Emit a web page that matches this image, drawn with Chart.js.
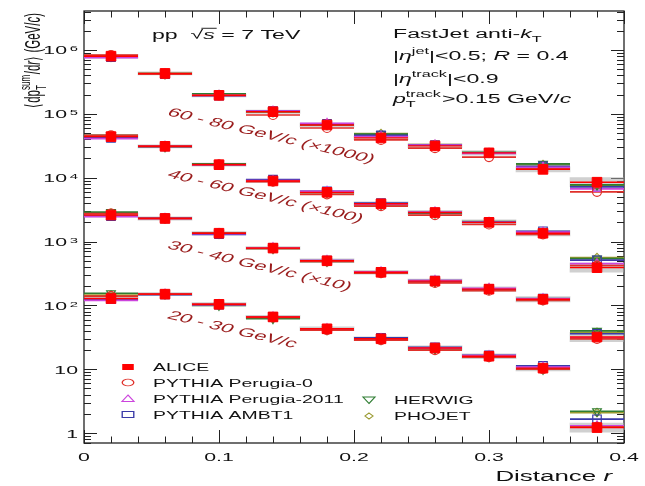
<!DOCTYPE html>
<html>
<head>
<meta charset="utf-8">
<script src="https://cdn.jsdelivr.net/npm/chart.js@4.4.1/dist/chart.umd.min.js"></script>
<style>
  html, body { margin: 0; padding: 0; background: #fff; }
  #wrap { width: 645px; height: 486px; }
</style>
</head>
<body>
<div id="wrap"><canvas id="chart" width="645" height="486"></canvas></div>
<script>
// bins in r and the four jet pT classes (rows), already scaled as drawn
const rCenters = [0.02, 0.06, 0.10, 0.14, 0.18, 0.22, 0.26, 0.30, 0.34, 0.38];
const rHalfWidth = 0.02;
const ptLabels = ['20 - 30 GeV/c', '30 - 40 GeV/c (\u00d710)', '40 - 60 GeV/c (\u00d7100)', '60 - 80 GeV/c (\u00d71000)'];

const alice = [
  [128, 150, 104, 66, 43, 30, 21.5, 16, 10.4, 1.22],
  [2600, 2300, 1350, 790, 500, 330, 240, 180, 125, 32],
  [44000, 31000, 16000, 8900, 5900, 3900, 2850, 2000, 1350, 390],
  [800000, 430000, 195000, 108000, 67000, 42000, 31500, 24500, 13500, 8500]
];
// relative systematic uncertainty per r bin (grey boxes)
const aliceSys = [0.07, 0.06, 0.06, 0.06, 0.07, 0.07, 0.08, 0.09, 0.10, 0.18];

const perugia0 = [
  [140, 150, 104, 65, 41, 28.5, 20, 15.5, 10, 1.25],
  [2750, 2300, 1350, 780, 490, 320, 225, 170, 120, 30],
  [46000, 31000, 16000, 8700, 5500, 3600, 2600, 1850, 1300, 420],
  [830000, 420000, 195000, 96000, 60000, 39000, 29000, 21000, 13800, 6000]
];
const perugia2011 = [
  [120, 150, 103, 66, 43, 30, 21.5, 16.3, 10.8, 1.3],
  [2450, 2300, 1330, 800, 505, 335, 245, 185, 127, 31],
  [41000, 31000, 15800, 9000, 6100, 3850, 2900, 2000, 1400, 450],
  [760000, 420000, 195000, 110000, 71000, 44000, 32500, 24000, 14500, 6700]
];
const ambt1 = [
  [125, 148, 103, 66, 43, 31, 22, 16.5, 11.3, 1.65],
  [2500, 2300, 1300, 800, 505, 335, 245, 182, 128, 36],
  [42000, 31000, 15800, 9300, 6100, 4000, 2850, 2020, 1450, 510],
  [770000, 420000, 192000, 110000, 70000, 46000, 32500, 24500, 15000, 7200]
];
const herwig = [
  [155, 152, 100, 62, 42, 29.5, 21, 15.8, 10, 2.2],
  [2900, 2350, 1350, 780, 490, 330, 235, 178, 123, 40],
  [46000, 30500, 16500, 9000, 5900, 3800, 2800, 2050, 1380, 540],
  [800000, 425000, 205000, 108000, 68000, 48000, 32500, 25000, 16500, 7700]
];
const phojet = [
  [145, 150, 102, 64, 42, 29.5, 21, 15.5, 10.2, 2.1],
  [2800, 2320, 1360, 785, 495, 330, 238, 178, 124, 38],
  [45000, 31000, 16200, 8900, 5900, 3850, 2800, 2000, 1360, 560],
  [810000, 425000, 200000, 108000, 68000, 49000, 33000, 24500, 16000, 7500]
];

const xMajorTicks = [0, 0.1, 0.2, 0.3, 0.4];
const xTickLabels = ['0', '0.1', '0.2', '0.3', '0.4'];
const xMinorStep = 0.02;
const yExponents = [0, 1, 2, 3, 4, 5, 6];

const SX = 1.85;  // the reference is stretched sideways, text too
const FONT = '"Liberation Sans", Arial, Helvetica, sans-serif';

const mcSeries = [
  { name: 'PYTHIA Perugia-0', rows: perugia0, color: '#e0302a', style: 'circle', radius: 4.5, rot: 0 },
  { name: 'PYTHIA Perugia-2011', rows: perugia2011, color: '#cc44dd', style: 'triangle', radius: 5, rot: 0 },
  { name: 'PYTHIA AMBT1', rows: ambt1, color: '#3a3aa8', style: 'rect', radius: 6, rot: 0 },
  { name: 'HERWIG', rows: herwig, color: '#2f7d32', style: 'triangle', radius: 5, rot: 180 },
  { name: 'PHOJET', rows: phojet, color: '#9a9a30', style: 'rectRot', radius: 4.2, rot: 0 }
];

function binLines(rows) {
  const out = [];
  rows.forEach(row => row.forEach((v, i) => {
    out.push({ x: rCenters[i] - rHalfWidth, y: v });
    out.push({ x: rCenters[i] + rHalfWidth, y: v });
    out.push({ x: rCenters[i] + rHalfWidth, y: null });
  }));
  return out;
}
function binPoints(rows) {
  const out = [];
  rows.forEach(row => row.forEach((v, i) => out.push({ x: rCenters[i], y: v })));
  return out;
}
function sysBoxes(rows) {
  const out = [];
  rows.forEach(row => row.forEach((v, i) => {
    out.push({ x: rCenters[i], y: [v / (1 + aliceSys[i]), v * (1 + aliceSys[i])] });
  }));
  return out;
}

const datasets = [];
datasets.push({
  type: 'scatter', label: 'ALICE', data: binPoints(alice), order: 1,
  pointStyle: 'rect', pointRadius: 6.8, backgroundColor: '#ff0000', borderColor: '#ff0000', borderWidth: 1
});
datasets.push({
  type: 'line', label: 'ALICE bins', data: binLines(alice), order: 2,
  borderColor: '#ff0000', borderWidth: 1.4, pointRadius: 0, spanGaps: false, fill: false
});
mcSeries.forEach((s, k) => {
  datasets.push({
    type: 'scatter', label: s.name, data: binPoints(s.rows), order: 4 + k,
    pointStyle: s.style, pointRadius: s.radius, rotation: s.rot,
    backgroundColor: 'rgba(0,0,0,0)', borderColor: s.color, borderWidth: 1.2
  });
  datasets.push({
    type: 'line', label: s.name + ' bins', data: binLines(s.rows), order: 20 + k,
    borderColor: s.color, borderWidth: 1.7, pointRadius: 0, spanGaps: false, fill: false
  });
});
datasets.push({
  type: 'bar', label: 'ALICE sys', data: sysBoxes(alice), order: 40,
  backgroundColor: 'rgba(170,170,170,0.55)', borderWidth: 0,
  barPercentage: 1, categoryPercentage: 1, grouped: false
});

// ---- text helpers (rich runs with sub/superscripts) ----
function setFont(ctx, size, it) { ctx.font = (it ? 'italic ' : '') + size + 'px ' + FONT; }
function drawRuns(ctx, runs, size, draw) {
  let x = 0;
  runs.forEach(r => {
    if (r.stack) {
      const s = size * 0.7;
      setFont(ctx, s, false);
      const w1 = ctx.measureText(r.stack.sup).width, w2 = ctx.measureText(r.stack.sub).width;
      if (draw) {
        ctx.fillText(r.stack.sup, x, -size * 0.45);
        ctx.fillText(r.stack.sub, x, size * 0.3);
      }
      x += Math.max(w1, w2) + size * 0.05;
      return;
    }
    const s = (r.sup || r.sub) ? size * 0.7 : size;
    const dy = r.sup ? -size * 0.45 : (r.sub ? size * 0.3 : 0);
    setFont(ctx, s, r.it);
    const w = ctx.measureText(r.t).width;
    if (draw) {
      ctx.fillText(r.t, x, dy);
      if (r.over) {
        ctx.save();
        ctx.lineWidth = 0.9;
        ctx.beginPath();
        ctx.moveTo(x - 1, -size * 0.86);
        ctx.lineTo(x + w + 1, -size * 0.86);
        ctx.stroke();
        ctx.restore();
      }
    }
    x += w;
  });
  return x;
}
function richText(ctx, runs, x, y, size, color, align, angle) {
  ctx.save();
  ctx.fillStyle = color;
  ctx.strokeStyle = color;
  ctx.textBaseline = 'alphabetic';
  ctx.textAlign = 'left';
  ctx.translate(x, y);
  ctx.scale(SX, 1);
  if (angle) ctx.rotate(angle);
  const w = drawRuns(ctx, runs, size, false);
  if (align === 'right') ctx.translate(-w, 0);
  else if (align === 'center') ctx.translate(-w / 2, 0);
  drawRuns(ctx, runs, size, true);
  ctx.restore();
}

function legendMarker(ctx, style, x, y, color, filled) {
  ctx.save();
  ctx.translate(x, y);
  ctx.scale(1.7, 1);
  ctx.strokeStyle = color;
  ctx.fillStyle = color;
  ctx.lineWidth = 0.8;
  ctx.beginPath();
  if (style === 'rect') ctx.rect(-3.4, -3, 6.8, 6);
  else if (style === 'circle') ctx.arc(0, 0, 3.4, 0, Math.PI * 2);
  else if (style === 'triangle') { ctx.moveTo(0, -3.5); ctx.lineTo(3.6, 3); ctx.lineTo(-3.6, 3); ctx.closePath(); }
  else if (style === 'triangleDown') { ctx.moveTo(0, 3.5); ctx.lineTo(3.6, -3); ctx.lineTo(-3.6, -3); ctx.closePath(); }
  else if (style === 'rectRot') { ctx.moveTo(0, -3); ctx.lineTo(2.4, 0); ctx.lineTo(0, 3); ctx.lineTo(-2.4, 0); ctx.closePath(); }
  if (filled) ctx.fill(); else ctx.stroke();
  ctx.restore();
}

const rootFrame = {
  id: 'rootFrame',
  beforeDatasetsDraw(chart) {
    const ctx = chart.ctx, a = chart.chartArea, xs = chart.scales.x, ys = chart.scales.y;
    ctx.save();
    ctx.strokeStyle = '#222';
    ctx.lineWidth = 1.3;
    ctx.strokeRect(a.left, a.top, a.right - a.left, a.bottom - a.top);
    ctx.lineWidth = 1;
    ctx.beginPath();
    // x ticks, bottom and top
    for (let i = 0; i * xMinorStep <= 0.4 + 1e-9; i++) {
      const v = i * xMinorStep;
      const major = xMajorTicks.some(t => Math.abs(t - v) < 1e-9);
      const len = major ? 13 : 6.5;
      const px = Math.round(xs.getPixelForValue(v)) + 0.5;
      ctx.moveTo(px, a.bottom); ctx.lineTo(px, a.bottom - len);
      ctx.moveTo(px, a.top); ctx.lineTo(px, a.top + len);
    }
    // y ticks, left and right
    [-1].concat(yExponents).forEach(e => {
      for (let m = 1; m <= 9; m++) {
        const v = m * Math.pow(10, e);
        if (v < ys.min || v > ys.max) continue;
        const len = m === 1 ? 13 : 7;
        const py = Math.round(ys.getPixelForValue(v)) + 0.5;
        ctx.moveTo(a.left, py); ctx.lineTo(a.left + len, py);
        ctx.moveTo(a.right, py); ctx.lineTo(a.right - len, py);
      }
    });
    ctx.stroke();
    ctx.restore();
  },
  afterDraw(chart) {
    const ctx = chart.ctx, xs = chart.scales.x, ys = chart.scales.y;
    const black = '#111';
    // x tick labels
    xMajorTicks.forEach((v, i) => {
      richText(ctx, [{ t: xTickLabels[i] }], xs.getPixelForValue(v), 461, 11.5, black, 'center');
    });
    // y tick labels
    yExponents.forEach(e => {
      const py = ys.getPixelForValue(Math.pow(10, e));
      if (e === 0) richText(ctx, [{ t: '1' }], 78, py + 4.5, 11.5, black, 'right');
      else if (e === 1) richText(ctx, [{ t: '10' }], 78, py + 4.5, 11.5, black, 'right');
      else {
        richText(ctx, [{ t: String(e) }], 78, py + 1.5, 8, black, 'right');
        richText(ctx, [{ t: '10' }], 67, py + 4.5, 11.5, black, 'right');
      }
    });
    // axis titles
    richText(ctx, [{ t: 'Distance ' }, { t: 'r', it: true }], 612, 481, 14, black, 'right');
    richText(ctx, [{ t: '\u27e8d' }, { t: 'p' }, { stack: { sup: 'sum', sub: 'T' } }, { t: '/d' }, { t: 'r', it: true },
      { t: '\u27e9 (GeV/' }, { t: 'c', it: true }, { t: ')' }], 39.5, 13, 11.5, black, 'right', -Math.PI / 2);
    // top annotations
    richText(ctx, [{ t: 'pp  \u221a' }, { t: 's', it: true, over: true }, { t: ' = 7 TeV' }], 152, 39, 12.5, black, 'left');
    richText(ctx, [{ t: 'FastJet anti-' }, { t: 'k', it: true }, { t: 'T', sub: true }], 393, 38, 12.5, black, 'left');
    richText(ctx, [{ t: '|' }, { t: '\u03b7', it: true }, { t: 'jet', sup: true }, { t: '|<0.5; ' }, { t: 'R', it: true }, { t: ' = 0.4' }],
      393, 60, 12.5, black, 'left');
    richText(ctx, [{ t: '|' }, { t: '\u03b7', it: true }, { t: 'track', sup: true }, { t: '|<0.9' }], 393, 83, 12.5, black, 'left');
    richText(ctx, [{ t: 'p', it: true }, { stack: { sup: 'track', sub: 'T' } }, { t: '>0.15 GeV/' }, { t: 'c', it: true }],
      393, 103, 12.5, black, 'left');
    // pT class labels
    const labelY = [318, 248, 177, 115];
    ptLabels.forEach((t, i) => {
      richText(ctx, [{ t: t }], 166, labelY[i], 12.2, '#9a1c1c', 'left', 23.5 * Math.PI / 180);
    });
    // legend
    const leg = [
      { name: 'ALICE', style: 'rect', color: '#ff0000', filled: true, x: 128, y: 367 },
      { name: mcSeries[0].name, style: 'circle', color: mcSeries[0].color, x: 128, y: 382.5 },
      { name: mcSeries[1].name, style: 'triangle', color: mcSeries[1].color, x: 128, y: 398.5 },
      { name: mcSeries[2].name, style: 'rect', color: mcSeries[2].color, x: 128, y: 414.5 },
      { name: mcSeries[3].name, style: 'triangleDown', color: mcSeries[3].color, x: 369, y: 400 },
      { name: mcSeries[4].name, style: 'rectRot', color: mcSeries[4].color, x: 369, y: 416 }
    ];
    leg.forEach(l => {
      legendMarker(ctx, l.style, l.x, l.y, l.color, l.filled);
      richText(ctx, [{ t: l.name }], l.x + 25, l.y + 4, 10.5, black, 'left');
    });
  }
};

new Chart(document.getElementById('chart'), {
  type: 'line',
  data: { datasets: datasets },
  options: {
    responsive: false,
    animation: false,
    devicePixelRatio: 1,
    layout: { padding: { left: 84, right: 21, top: 11, bottom: 43 } },
    scales: {
      x: { type: 'linear', min: 0, max: 0.4, display: false, offset: false },
      y: { type: 'logarithmic', min: 0.7, max: 4.08e6, display: false }
    },
    plugins: {
      legend: { display: false },
      tooltip: { enabled: false }
    }
  },
  plugins: [rootFrame]
});
</script>
</body>
</html>
